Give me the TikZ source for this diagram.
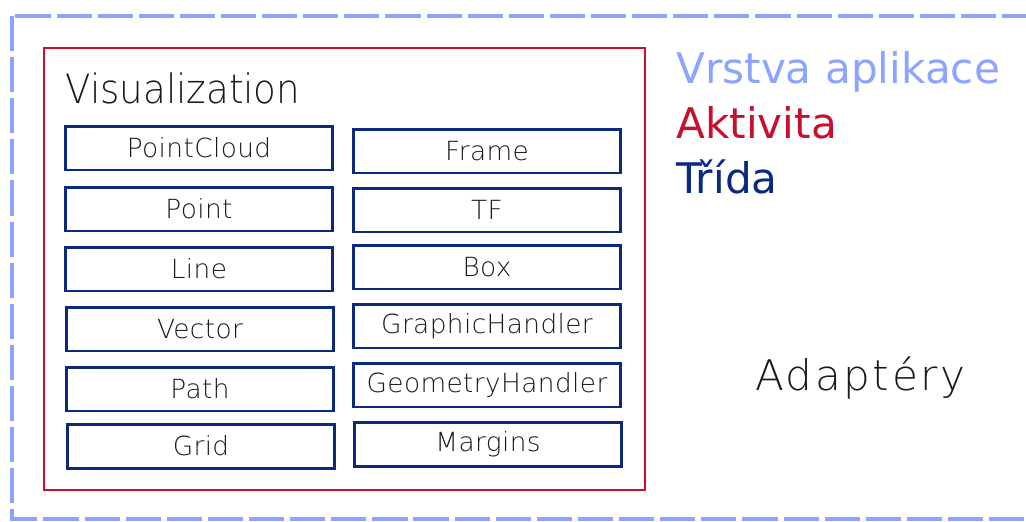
\documentclass[tikz,border=0pt]{standalone}
\usepackage{fontspec}
\usepackage{tikz}
\usetikzlibrary{positioning}
\setmainfont{DejaVu Sans}
\newfontfamily\thinfont[LetterSpace=1.5]{DejaVu Sans ExtraLight}
\newfontfamily\titlefont[FakeStretch=0.92]{DejaVu Sans ExtraLight}
\newfontfamily\adpfont[LetterSpace=6]{DejaVu Sans ExtraLight}
\newfontfamily\legfont{DejaVu Sans}
\definecolor{layer}{HTML}{8CA4FF}
\definecolor{act}{HTML}{C8102E}
\definecolor{cls}{HTML}{0B2A7F}
\definecolor{ink}{HTML}{1A1A1A}
\tikzset{
  layerbox/.style={draw=layer, line width=2.3pt, dash pattern=on 20pt off 3.4pt},
  actbox/.style={draw=act, line width=1.5pt},
  clsbox/.style={draw=cls, line width=1.7pt, minimum width=5.36cm, minimum height=0.88cm,
    inner sep=0pt, text=ink, font=\thinfont\fontsize{15}{15}\selectfont},
  title/.style={inner sep=0pt, anchor=base west, text=ink, font=\titlefont\fontsize{23}{23}\selectfont},
  leg/.style={inner sep=0pt, anchor=base west, font=\legfont\fontsize{24}{24}\selectfont},
}

\begin{document}
\begin{tikzpicture}[x=0.02cm, y=-0.02cm]
  \useasboundingbox (0,0) rectangle (1026,521);

  \draw[layerbox] (12,16) rectangle (1070,519);
  \draw[actbox] (44,48) rectangle (645,490);
  \node[title] (vis) at (65,103) {Visualization};

  % left column
  \node[clsbox] (pcl)  at (199,148) {PointCloud};
  \node[clsbox] (pt)   at (199,209) {Point};
  \node[clsbox] (line) at (199,269) {Line};
  \node[clsbox] (vec)  at (200,329) {Vector};
  \node[clsbox] (path) at (200,389) {Path};
  \node[clsbox] (grid) at (201,446) {Grid};

  % right column
  \node[clsbox] (frm)  at (487,151) {Frame};
  \node[clsbox] (tf)   at (487,210) {TF};
  \node[clsbox] (box)  at (487,267) {Box};
  \node[clsbox] (gfx)  at (487,326) {GraphicHandler};
  \node[clsbox] (geo)  at (487,385) {GeometryHandler};
  \node[clsbox] (mrg)  at (488,444) {Margins};

  % legend
  \node[leg, text=layer] (lvr) at (676,83)  {Vrstva aplikace};
  \node[leg, text=act]   (lak) at (676,138) {Aktivita};
  \node[leg, text=cls]   (ltr) at (676,193) {Třída};

  \node[title, font=\adpfont\fontsize{24}{24}\selectfont] (adp) at (755,390) {Adaptéry};
\end{tikzpicture}
\end{document}
